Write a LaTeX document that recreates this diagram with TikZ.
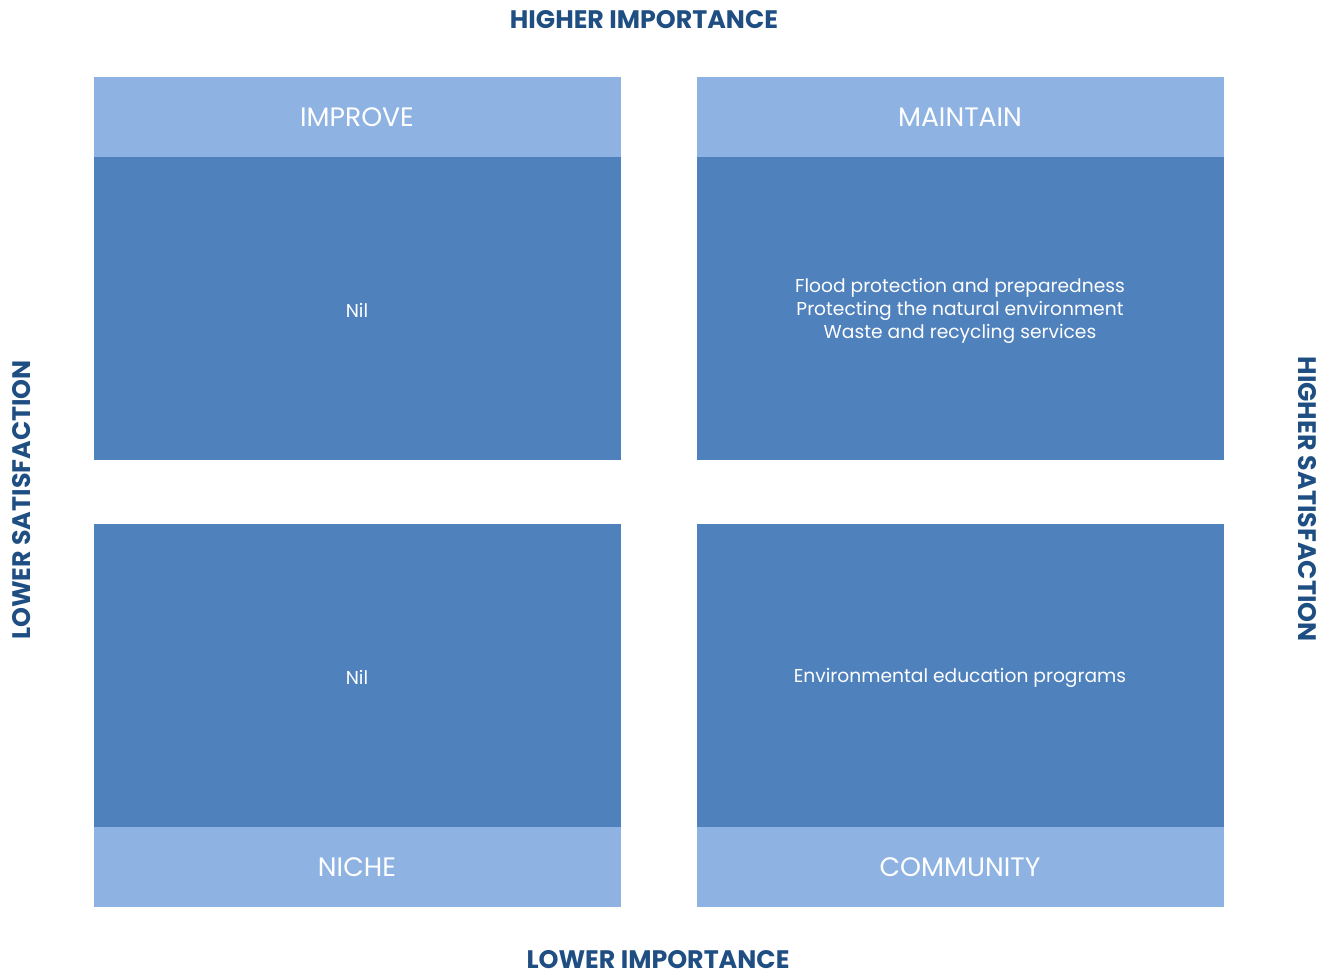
\documentclass[tikz,border=0pt]{standalone}
\usepackage{fontspec}
\setmainfont{Poppins}
\definecolor{axisblue}{HTML}{1F4E82}
\definecolor{headblue}{HTML}{8EB3E2}
\definecolor{bodyblue}{HTML}{4F81BD}
\tikzset{
  headbox/.style={fill=headblue, draw=none},
  bodybox/.style={fill=bodyblue, draw=none},
  headtext/.style={text=white, font=\fontsize{20}{22}\selectfont, inner sep=0pt, text height=1.3ex, text depth=0pt},
  bodytext/.style={text=white, font=\fontsize{14}{17}\selectfont, align=center, inner sep=0pt},
  axistext/.style={text=axisblue, font=\fontsize{19}{21}\bfseries\selectfont, inner sep=0pt, text height=1.3ex, text depth=0pt}
}
\begin{document}
\begin{tikzpicture}[x=0.75pt,y=-0.75pt]
\useasboundingbox (0,0) rectangle (1333,976);
% top-left
\fill[headbox] (94,77) rectangle (621,157);
\fill[bodybox] (94,157) rectangle (621,460);
% top-right
\fill[headbox] (697,77) rectangle (1224,157);
\fill[bodybox] (697,157) rectangle (1224,460);
% bottom-left
\fill[bodybox] (94,524) rectangle (621,827);
\fill[headbox] (94,827) rectangle (621,907);
% bottom-right
\fill[bodybox] (697,524) rectangle (1224,827);
\fill[headbox] (697,827) rectangle (1224,907);

\node[headtext] (improve) at (357,122) {IMPROVE};
\node[headtext] (maintain) at (960,122) {MAINTAIN};
\node[headtext] (niche) at (357,872) {NICHE};
\node[headtext] (community) at (960,872) {COMMUNITY};

\node[bodytext] (nil1) at (357,310) {Nil};
\node[bodytext] (mlist) at (960,311) {Flood protection and preparedness\\Protecting the natural environment\\Waste and recycling services};
\node[bodytext] (nil2) at (357,677) {Nil};
\node[bodytext] (env) at (960,678) {Environmental education programs};

\node[axistext] (hi) at (644,24) {HIGHER IMPORTANCE};
\node[axistext] (li) at (658,964) {LOWER IMPORTANCE};
\node[axistext, rotate=90] (ls) at (26,500) {LOWER SATISFACTION};
\node[axistext, rotate=-90] (hs) at (1303,499) {HIGHER SATISFACTION};
\end{tikzpicture}
\end{document}
